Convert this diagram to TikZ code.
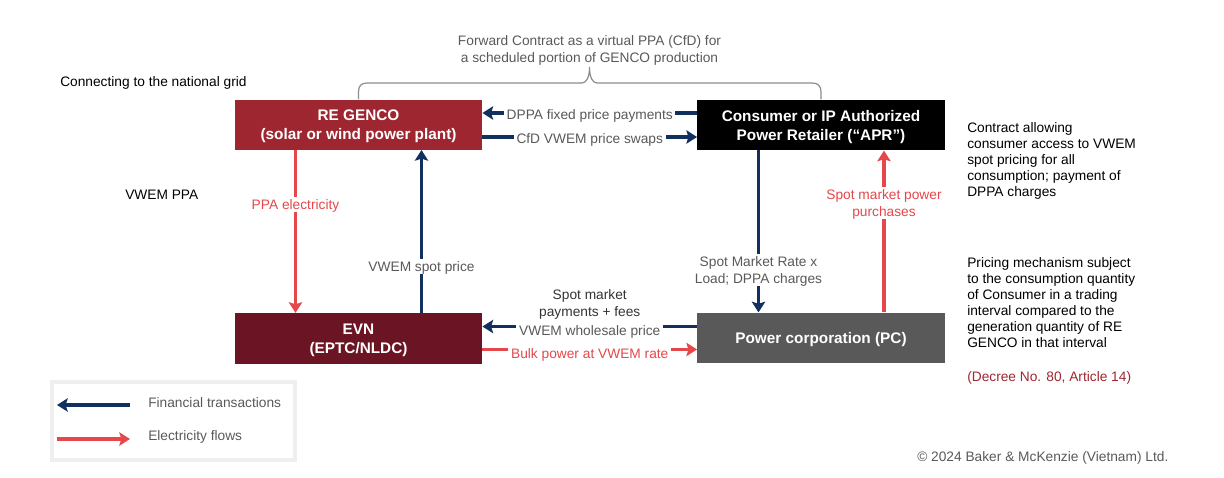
\documentclass[tikz,border=0pt]{standalone}
\usepackage{fontspec}
\setmainfont{Liberation Sans}
\usepackage{xcolor}
\usetikzlibrary{arrows.meta,positioning}
\definecolor{genred}{HTML}{9E2630}
\definecolor{evnred}{HTML}{6B1423}
\definecolor{pcgray}{HTML}{595959}
\definecolor{finblue}{HTML}{12305E}
\definecolor{elecred}{HTML}{E5474A}
\definecolor{labgray}{HTML}{595959}
\definecolor{framegray}{HTML}{EFEFEF}
\tikzset{
    party/.style={draw=none, minimum width=185.5pt, minimum height=38pt, inner sep=0pt, align=center, text=white, text depth=0pt, font=\fontsize{11.5}{14.2}\selectfont\bfseries},
    fin/.style={draw=finblue, line width=2.4pt, -{Stealth[length=8pt,width=10pt,inset=1.5pt]}},
    elec/.style={draw=elecred, line width=2.4pt, -{Stealth[length=8pt,width=10pt,inset=1.5pt]}},
    lab/.style={fill=white, inner sep=2pt, align=center, text=labgray, text depth=0pt, font=\fontsize{10.3}{12.6}\selectfont},
    note/.style={inner sep=0pt, align=left, anchor=north west, font=\fontsize{10.3}{12.1}\selectfont},
}
\begin{document}
\begin{tikzpicture}[x=0.75pt, y=-0.75pt]
            \useasboundingbox (0,0) rectangle (1224,478);
            \node[party, fill=genred] at (358.5,125) (genco) {RE GENCO\\(solar or wind power plant)};
            \node[party, fill=black] at (821,125) (apr) {Consumer or IP Authorized\\Power Retailer (“APR”)};
            \node[party, fill=evnred] at (358.5,338.5) (evn) {EVN\\(EPTC/NLDC)};
            \node[party, fill=pcgray] at (821,338) (pc) {Power corporation (PC)};
            % forward contract
            \coordinate (bracetip) at (589.5,67);
            \draw[draw=gray!90, line width=0.9pt] (genco.north) -- (358.5,92) .. controls (358.5,86) and (361,83) .. (367,83) -- (582,83) .. controls (586,83) and (589.5,78) .. (bracetip) .. controls (589.5,78) and (593,83) .. (597,83) -- (812,83) .. controls (818,83) and (821,86) .. (821,92) -- (apr.north);
            \node[lab, fill=none] at (589.5,49) (fwd) {Forward Contract as a virtual PPA (CfD) for\\a scheduled portion of GENCO production};
            % top row
            \coordinate (aprw1) at ([yshift=9pt]apr.west);
            \coordinate (aprw2) at ([yshift=-9pt]apr.west);
            \draw[fin] (aprw1) -- node[lab, yshift=-1pt] (dppa) {DPPA fixed price payments} (genco.east |- aprw1);
            \draw[fin] (genco.east |- aprw2) -- node[lab, yshift=-1pt] (cfd) {CfD VWEM price swaps} (aprw2);
            % left column
            \coordinate (gencos1) at (295.5,150);
            \coordinate (gencos2) at (421.5,150);
            \draw[elec] (gencos1) -- node[lab, pos=0.333, text=elecred] (ppa) {PPA electricity} (gencos1 |- evn.north);
            \draw[fin] (gencos2 |- evn.north) -- node[lab, pos=0.284] (spot) {VWEM spot price} (gencos2);
            % right column
            \coordinate (aprs) at (758.5,150);
            \coordinate (prcn) at (884,312);
            \draw[fin] (aprs) -- node[lab, pos=0.74] (rate) {Spot Market Rate x\\Load; DPPA charges} (aprs |- pc.north);
            \draw[elec] (prcn) -- node[lab, pos=0.675, text=elecred] (buy) {Spot market power\\purchases} (prcn |- apr.south);
            % bottom row
            \coordinate (pcw1) at ([yshift=8.6pt]pc.west);
            \coordinate (pcw2) at ([yshift=-8.6pt]pc.west);
            \draw[fin] (pcw1) -- node[lab, yshift=-2.7pt] (whole) {VWEM wholesale price} (evn.east |- pcw1);
            \draw[elec] (evn.east |- pcw2) -- node[lab, yshift=-2.7pt, text=elecred] (bulk) {Bulk power at VWEM rate} (pcw2);
            \node[lab, fill=none, text=black!80, above=1.2pt of whole] (pay) {Spot market\\payments + fees};
            % side texts
            \node[note, anchor=west] at (60,83) (grid) {Connecting to the national grid};
            \node[note, anchor=west] at (125,195) (ppaside) {VWEM PPA};
            \node[note] at (967,122) (access) {Contract allowing\\consumer access to VWEM\\spot pricing for all\\consumption; payment of\\DPPA charges};
            \node[note] at (967,257) (mech) {Pricing mechanism subject\\to the consumption quantity\\of Consumer in a trading\\interval compared to the\\generation quantity of RE\\GENCO in that interval};
            \node[note, anchor=west, text=genred] at (967,378) (decree) {(Decree No. 80, Article 14)};
            \node[note, anchor=west, text=labgray] at (917,458) (copy) {© 2024 Baker \& McKenzie (Vietnam) Ltd.};
            % legend
            \draw[framegray, line width=3pt] (52,382) rectangle (295,460);
            \coordinate (finr) at (130,405);
            \coordinate (finl) at (57,405);
            \coordinate (elecl) at (57,439);
            \coordinate (elecr) at (130,439);
            \draw[fin] (finr) -- (finl);
            \draw[elec] (elecl) -- (elecr);
            \node[note, anchor=west, text=labgray] at (148,402.5) (finlab) {Financial transactions};
            \node[note, anchor=west, text=labgray] at (148,436.5) (eleclab) {Electricity flows};
        \end{tikzpicture}
\end{document}
